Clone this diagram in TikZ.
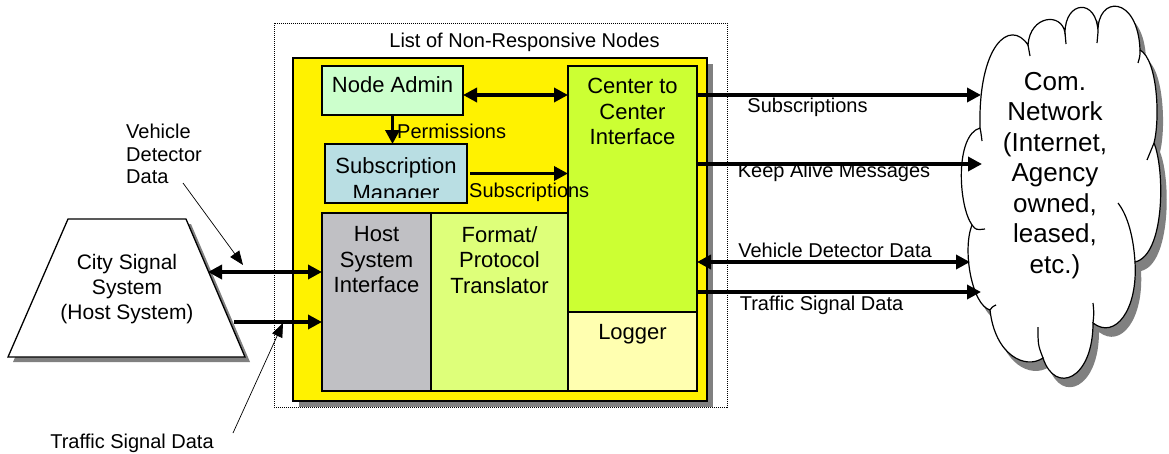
\documentclass[tikz,border=0pt]{standalone}
\usepackage{fontspec}
\setmainfont{Liberation Sans}
\usetikzlibrary{arrows.meta}
\definecolor{cNA}{RGB}{204,255,204}
\definecolor{cSM}{RGB}{185,222,227}
\definecolor{cHost}{RGB}{192,192,196}
\definecolor{cFmt}{RGB}{222,255,122}
\definecolor{cCC}{RGB}{204,255,51}
\definecolor{cLog}{RGB}{255,255,176}
\definecolor{cShadow}{RGB}{128,128,128}
\newcommand\mycloudshape[1]{%
  \path[#1] (980,128) .. controls (978,45) and (1010,18) .. (1028,45)
    .. controls (1030,15) and (1062,12) .. (1065,33)
    .. controls (1065,0) and (1097,-2) .. (1098,32)
    .. controls (1097,-5) and (1138,-5) .. (1140,50)
    .. controls (1158,60) and (1160,120) .. (1154,143)
    .. controls (1165,170) and (1165,255) .. (1135,262)
    .. controls (1138,310) and (1115,340) .. (1093,323)
    .. controls (1093,380) and (1055,395) .. (1043,358)
    .. controls (1025,370) and (995,355) .. (990,310)
    .. controls (972,305) and (962,250) .. (972,225)
    .. controls (958,205) and (955,135) .. (980,128) -- cycle;}
\begin{document}
\begin{tikzpicture}[x=1pt,y=-1pt,
  box/.style={draw=black,line width=1.3pt,rectangle,inner sep=0pt,outer sep=0pt},
  txt/.style={inner sep=0pt,align=center,font=\fontsize{22}{25.5}\selectfont},
  lbl/.style={inner sep=0pt,font=\fontsize{20}{22.5}\selectfont},
  arr/.style={line width=3.4pt,-{Triangle[length=14pt,width=14pt]}},
  darr/.style={line width=3.4pt,{Triangle[length=14pt,width=14pt]}-{Triangle[length=14pt,width=14pt]}},
  note/.style={line width=0.7pt,-{Triangle[length=14pt,width=11pt]}},
]
\useasboundingbox (0,0) rectangle (1169,453);

% dotted frame
\node[draw,line width=0.8pt,dash pattern=on 1pt off 1pt,minimum width=453pt,minimum height=384pt,inner sep=0pt] (frame) at (500.5,215) {};
\node[lbl] (title) at (524.5,42) {List of Non-Responsive Nodes};

% yellow container with shadow
\fill[cShadow] (299,64) rectangle (713,407);
\node[box,line width=1.8pt,fill=yellow,minimum width=414pt,minimum height=343pt] (ybox) at (500,229.5) {};

% inner boxes
\node[box,fill=cNA,minimum width=141pt,minimum height=49pt] (na) at (392.5,90.5) {};
\node[txt] (natxt) at (392.5,85) {Node Admin};

\node[box,fill=cSM,minimum width=142pt,minimum height=59pt] (sm) at (396,173.5) {};
\begin{scope}
  \clip (325.7,144.7) rectangle (466.3,197.5);
  \node[txt,anchor=north,font=\fontsize{22}{27.5}\selectfont] (smtxt) at (396,157) {Subscription\\Manager};
\end{scope}
\node[box,minimum width=142pt,minimum height=59pt] (smframe) at (396,173.5) {};

\node[box,fill=cCC,minimum width=129pt,minimum height=246pt] (c2c) at (632.5,189) {};
\node[txt] (c2ctxt) at (632.5,111.5) {Center to\\Center\\Interface};

\node[box,fill=cLog,minimum width=129pt,minimum height=79pt] (log) at (632.5,351.5) {};
\node[txt] (logtxt) at (632.5,334) {Logger};

\node[box,fill=cHost,minimum width=109pt,minimum height=178pt] (host) at (376.5,302) {};
\node[txt] (hosttxt) at (376.5,260) {Host\\System\\Interface};

\node[box,fill=cFmt,minimum width=137pt,minimum height=178pt] (fmt) at (499.5,302) {};
\node[txt] (fmttxt) at (499.5,260) {Format/\\Protocol\\Translator};

% city signal system (trapezoid) with shadow
\fill[cShadow] (73,224) -- (191,224) -- (250,362) -- (13,362) -- cycle;
\draw[line width=1.3pt,fill=white] (68,219) -- (186,219) -- (245,357) -- (8,357) -- cycle;
\node[inner sep=0pt,align=center,font=\fontsize{21}{25}\selectfont] (city) at (127,288.7) {City Signal\\System\\(Host System)};

% cloud with shadow
\mycloudshape{fill=cShadow,shift={(6,9)}}
\mycloudshape{draw=black,fill=white,line width=1.2pt}
\begin{scope}[line width=1.2pt]
  \draw (980,128) .. controls (981,133) .. (982,141);
  \draw (1028,45) .. controls (1029,50) .. (1030,56);
  \draw (1065,33) .. controls (1066,38) .. (1066,44);
  \draw (1098,32) .. controls (1098,37) .. (1097,43);
  \draw (1140,50) .. controls (1140,56) .. (1138,63);
  \draw (1154,143) .. controls (1151,152) .. (1147,160);
  \draw (1135,262) .. controls (1133,230) and (1125,212) .. (1118,203);
  \draw (1093,323) .. controls (1094,313) .. (1093,303);
  \draw (1043,358) .. controls (1038,345) .. (1038,327);
  \draw (990,310) .. controls (992,307) .. (996,305);
  \draw (972,225) .. controls (976,230) .. (985,229);
\end{scope}
\node[inner sep=0pt,align=center,font=\fontsize{26}{30.5}\selectfont] (cloud) at (1055,175.5) {Com.\\Network\\(Internet,\\Agency\\owned,\\leased,\\etc.)};

% labels
\node[lbl,anchor=west] (perm) at (397,131) {Permissions};
\node[lbl,anchor=west] (subin) at (469,192) {Subscriptions};
\node[lbl] (subout) at (807.5,107) {Subscriptions};
\node[lbl] (keep) at (834,172) {Keep Alive Messages};
\node[lbl] (vddr) at (835,250) {Vehicle Detector Data};
\node[lbl] (tsdr) at (821.5,305) {Traffic Signal Data};
\node[lbl,anchor=west,align=left] (vddl) at (126,154) {Vehicle\\Detector\\Data};
\node[lbl] (tsdl) at (132,443) {Traffic Signal Data};

% connector end points
\coordinate (cl1) at (981,95);
\coordinate (cl2) at (982,164);
\coordinate (cl3) at (970,262);
\coordinate (cl4) at (981,292);
\coordinate (hs1) at (208,272);
\coordinate (hs2) at (234,322);
\coordinate (vdA) at (183,183);
\coordinate (vdB) at (243,265);
\coordinate (tsA) at (233,433);
\coordinate (tsB) at (283,323);

% connectors
\draw[darr] (na.east |- cl1) -- (c2c.west |- cl1);
\draw[arr] (na.south) -- (na.south |- sm.north);
\draw[arr,shorten <=3pt] (sm.east) -- (sm.east -| c2c.west);
\draw[arr] (c2c.east |- cl1) -- (cl1);
\draw[arr] (c2c.east |- cl2) -- (cl2);
\draw[darr] (c2c.east |- cl3) -- (cl3);
\draw[arr] (c2c.east |- cl4) -- (cl4);
\draw[darr] (hs1) -- (host.west |- hs1);
\draw[arr] (hs2) -- (host.west |- hs2);
\draw[note] (vdA) -- (vdB);
\draw[note] (tsA) -- (tsB);
\end{tikzpicture}
\end{document}
